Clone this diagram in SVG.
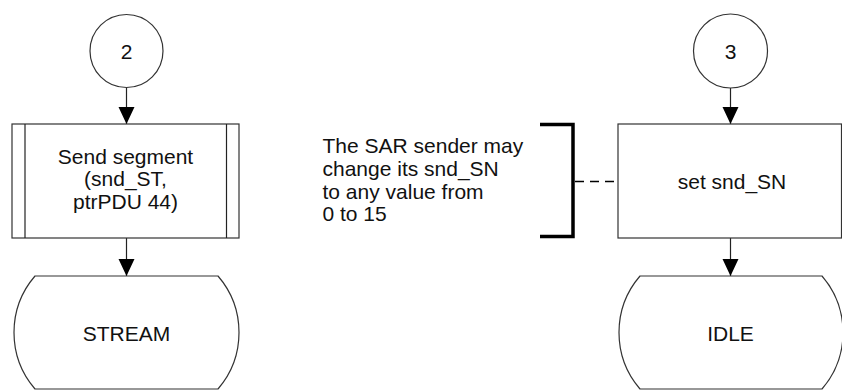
<svg xmlns="http://www.w3.org/2000/svg" width="842" height="392" viewBox="0 0 842 392">
<defs>
<marker id="ah" markerUnits="userSpaceOnUse" markerWidth="18" markerHeight="18" viewBox="0 0 18 18" refX="17" refY="9" orient="auto">
<path d="M0,1 L17,9 L0,17 Z" fill="#000"/>
</marker>
</defs>
<style>
.sh{fill:#fff;stroke:#333;stroke-width:1.2}
.t{font-family:"Liberation Sans",Arial,sans-serif;font-size:21px;fill:#111;text-anchor:middle}
.n{font-family:"Liberation Sans",Arial,sans-serif;font-size:21px;fill:#111}
.c{stroke:#222;stroke-width:1.2;fill:none}
</style>
<rect width="842" height="392" fill="#fff"/>
<g id="connectors">
<line class="c" x1="126.5" y1="87" x2="126.5" y2="124" marker-end="url(#ah)"/>
<line class="c" x1="126.5" y1="238" x2="126.5" y2="276" marker-end="url(#ah)"/>
<line class="c" x1="730.5" y1="87" x2="730.5" y2="124" marker-end="url(#ah)"/>
<line class="c" x1="730.5" y1="238" x2="730.5" y2="276" marker-end="url(#ah)"/>
<line x1="575" y1="181.5" x2="618" y2="181.5" stroke="#000" stroke-width="1.5" stroke-dasharray="9,6"/>
</g>
<g id="conn2">
<circle class="sh" cx="126.5" cy="51" r="36.5"/>
<text class="t" x="126.5" y="58.5">2</text>
</g>
<g id="sendSegment">
<rect class="sh" x="12" y="124" width="227" height="114"/>
<line class="c" x1="25" y1="124" x2="25" y2="238"/>
<line class="c" x1="226.5" y1="124" x2="226.5" y2="238"/>
<text class="t" x="125.5" y="163.5">Send segment</text>
<text class="t" x="125.5" y="186">(snd_ST,</text>
<text class="t" x="125.5" y="208.5">ptrPDU 44)</text>
</g>
<g id="stream">
<path class="sh" d="M35,276 H218 A86.5,86.5 0 0 1 218,389 H35 A86.5,86.5 0 0 1 35,276 Z"/>
<text class="t" x="126.5" y="340.5">STREAM</text>
</g>
<g id="note">
<path d="M540,124.5 H573 V236.5 H540" fill="none" stroke="#000" stroke-width="3.5"/>
<text class="n" x="322.5" y="153">The SAR sender may</text>
<text class="n" x="322.5" y="176">change its snd_SN</text>
<text class="n" x="322.5" y="198.5">to any value from</text>
<text class="n" x="322.5" y="221">0 to 15</text>
</g>
<g id="conn3">
<circle class="sh" cx="730.5" cy="51" r="37"/>
<text class="t" x="730.5" y="58.5">3</text>
</g>
<g id="setSN">
<rect class="sh" x="618" y="124" width="223.5" height="114"/>
<text class="t" x="732" y="189">set snd_SN</text>
</g>
<g id="idle">
<path class="sh" d="M640,276 H822 A86.5,86.5 0 0 1 822,389 H640 A86.5,86.5 0 0 1 640,276 Z"/>
<text class="t" x="730.5" y="340.5">IDLE</text>
</g>
</svg>
